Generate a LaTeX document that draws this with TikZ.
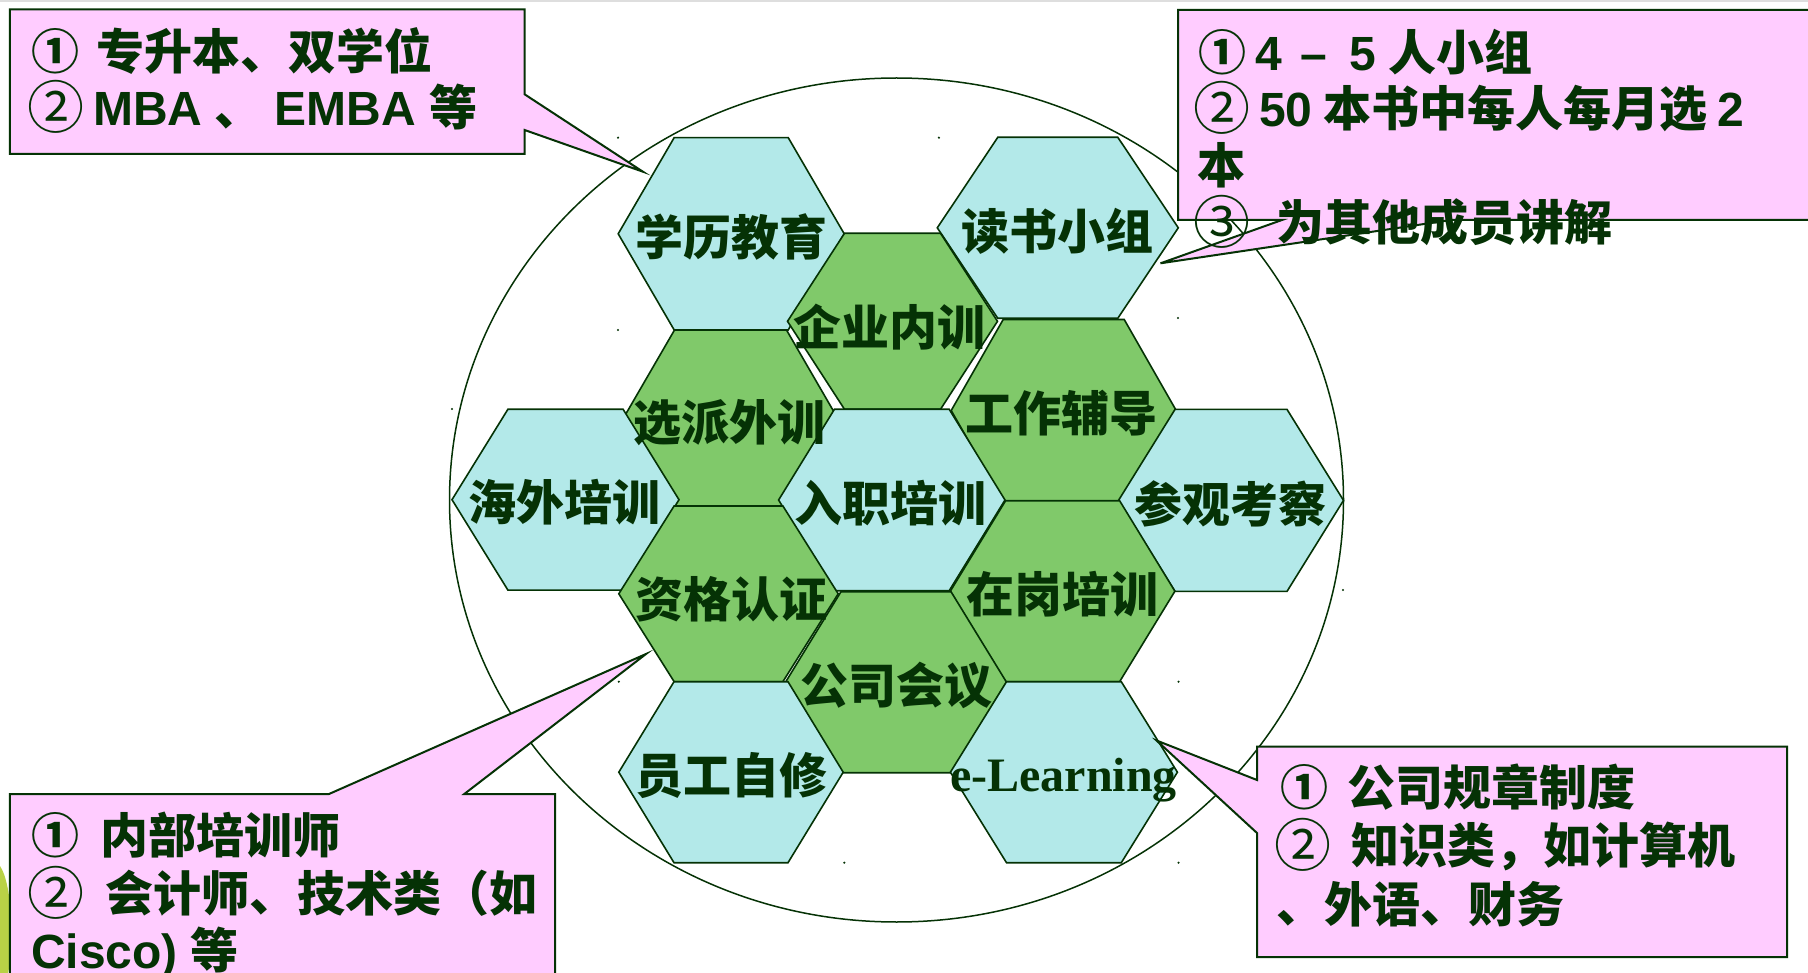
\documentclass[tikz,border=0pt]{standalone}
\usepackage{fontspec}
\setmainfont{Noto Sans CJK SC}
\newfontfamily\ars{Liberation Sans}
\newfontfamily\tms{Liberation Serif}
\definecolor{dkg}{RGB}{5,50,5}
\definecolor{cyanf}{RGB}{179,233,233}
\definecolor{greenf}{RGB}{128,201,106}
\definecolor{pinkf}{RGB}{255,204,255}
\definecolor{blobc}{RGB}{185,210,70}
\tikzset{
  hexline/.style={draw=dkg,line width=1.6pt,line join=miter},
  calloutbox/.style={draw=dkg,fill=pinkf,line width=2pt,line join=miter},
  hextext/.style={text=dkg,font=\fontsize{48}{56}\selectfont\bfseries,inner sep=0pt},
  linetext/.style={text=dkg,font=\fontsize{48}{56}\selectfont\bfseries,inner sep=0pt,anchor=base west}
}
\newcommand{\circn}[1]{\raisebox{-3pt}{\fontsize{57}{60}\selectfont\mdseries #1}}
\newcommand{\hexg}[6]{%
  \path[hexline,fill=#6] (#1-#3,#2) -- (#1-#4,#2-#5) -- (#1+#4,#2-#5) -- (#1+#3,#2)
     -- (#1+#4,#2+#5) -- (#1-#4,#2+#5) -- cycle;}
\begin{document}
\begin{tikzpicture}[x=1pt,y=-1pt]
\useasboundingbox (0,0) rectangle (1808,973);
\fill[white] (0,0) rectangle (1808,973);
\fill[black!13] (0,0) rectangle (1808,2.5);
\fill[blobc] (0,866) .. controls (13,885) and (14,950) .. (8,973) -- (0,973) -- cycle;

% big circle
\draw[dkg,line width=1.5pt] (896.5,500) ellipse [x radius=447,y radius=422];

% hexagons: cx cy halfwidth tophalfwidth halfheight fill
\hexg{731.2}{233.8}{113}{57}{96.2}{cyanf}     % xueli
\hexg{1057.8}{227.8}{120.5}{60}{90.5}{cyanf}  % dushu
\hexg{892.5}{321.3}{105}{48}{88}{greenf}      % qiye
\hexg{730.5}{418}{107}{56}{88}{greenf}        % xuanpai
\hexg{1063.7}{410.5}{112.5}{60.5}{91}{greenf} % gongzuo
\hexg{565.5}{499.7}{113.5}{57.6}{90.4}{cyanf} % haiwai
\hexg{891.8}{500}{113.2}{57.4}{90.7}{cyanf}   % ruzhi
\hexg{1231}{500.4}{112.5}{56}{91}{cyanf}      % canguan
\hexg{728.5}{593.8}{109.7}{54.4}{87.8}{greenf}% zige
\hexg{1062.6}{591.2}{112.3}{57}{90.5}{greenf} % zaigang
\hexg{896}{682.2}{110.5}{55}{90.5}{greenf}    % gongsi
\hexg{731}{772.2}{112.2}{57}{90.5}{cyanf}     % yuangong
\hexg{1063.9}{772.2}{113.5}{57.4}{90.5}{cyanf}% elearning

% artefact dots
\foreach \p in {(618,137.7),(938.9,137.7),(618,330),(452,409),(1178,318),(1343,590),(618.8,681.7),(1178.5,681.7),(844.3,862.7),(1178.5,862.7)}
  \fill[dkg] \p circle (1.2);

% callouts
\path[calloutbox] (9.8,9.3) -- (524.6,9.3) -- (524.6,94.3) -- (642.9,171.7)
  -- (524.6,130) -- (524.6,154) -- (9.8,154) -- cycle;
\path[calloutbox] (1178,10) -- (1815,10) -- (1815,220) -- (1451,220) -- (1160.5,263.3)
  -- (1282,220) -- (1178,220) -- cycle;
\path[calloutbox] (9.8,794) -- (329,794) -- (646,654) -- (464.3,794) -- (555,794)
  -- (555,985) -- (9.8,985) -- cycle;
\path[calloutbox] (1257,746.5) -- (1787,746.5) -- (1787,957) -- (1257,957) -- (1257,833)
  -- (1156.5,740.5) -- (1257,780) -- cycle;

% hexagon texts
\node[hextext] (t1) at (731,237) {学历教育};
\node[hextext] (t2) at (1057,231) {读书小组};
\node[hextext] (t3) at (889.8,327.5) {企业内训};
\node[hextext] (t4) at (729.6,422.5) {选派外训};
\node[hextext] (t5) at (1061,412.8) {工作辅导};
\node[hextext] (t6) at (564,502.5) {海外培训};
\node[hextext] (t7) at (890,503.5) {入职培训};
\node[hextext] (t8) at (1230,504) {参观考察};
\node[hextext] (t9) at (731,599) {资格认证};
\node[hextext] (t10) at (1062.6,594) {在岗培训};
\node[hextext] (t11) at (896.8,685) {公司会议};
\node[hextext] (t12) at (731,775.8) {员工自修};
\node[hextext,anchor=base,font=\fontsize{48}{56}\selectfont\tms\bfseries] (t13) at (1063.5,791) {e-Learning};

% callout 1 text
\node[linetext] (a1) at (31,70) {\rlap{①}\hspace{65pt}专升本、双学位};
\node[linetext] (a2) at (27,126) {\rlap{\circn{②}}\hspace{66pt}{\ars\bfseries MBA}\hspace{12pt}、\hspace{12pt}{\ars\bfseries EMBA}\hspace{14pt}等};

% callout 2 text
\node[linetext] (b1) at (1198,71) {\rlap{①}\hspace{57pt}{\ars\bfseries 4}\hspace{19pt}{\ars\bfseries –}\hspace{22pt}{\ars\bfseries 5}\hspace{12pt}人小组};
\node[linetext] (b2) at (1193,127) {\rlap{\circn{②}}\hspace{66pt}{\ars\bfseries 50}\hspace{11pt}本书中每人每月选\hspace{10pt}{\ars\bfseries 2}};
\node[linetext] (b3) at (1197,184) {本};
\node[linetext] (b4) at (1193,241) {\rlap{\circn{③}}\hspace{83pt}为其他成员讲解};

% callout 3 text
\node[linetext] (c1) at (31,853.5) {\rlap{①}\hspace{69pt}内部培训师};
\node[linetext] (c2) at (27,911) {\rlap{\circn{②}}\hspace{78pt}会计师、技术类（如};
\node[linetext] (c3) at (31,968) {{\ars\bfseries Cisco)}\hspace{13pt}等};

% callout 4 text
\node[linetext] (d1) at (1280,805.5) {\rlap{①}\hspace{67pt}公司规章制度};
\node[linetext] (d2) at (1274,863.5) {\rlap{\circn{②}}\hspace{77pt}知识类，如计算机};
\node[linetext] (d3) at (1276,922) {、外语、财务};
\end{tikzpicture}
\end{document}
